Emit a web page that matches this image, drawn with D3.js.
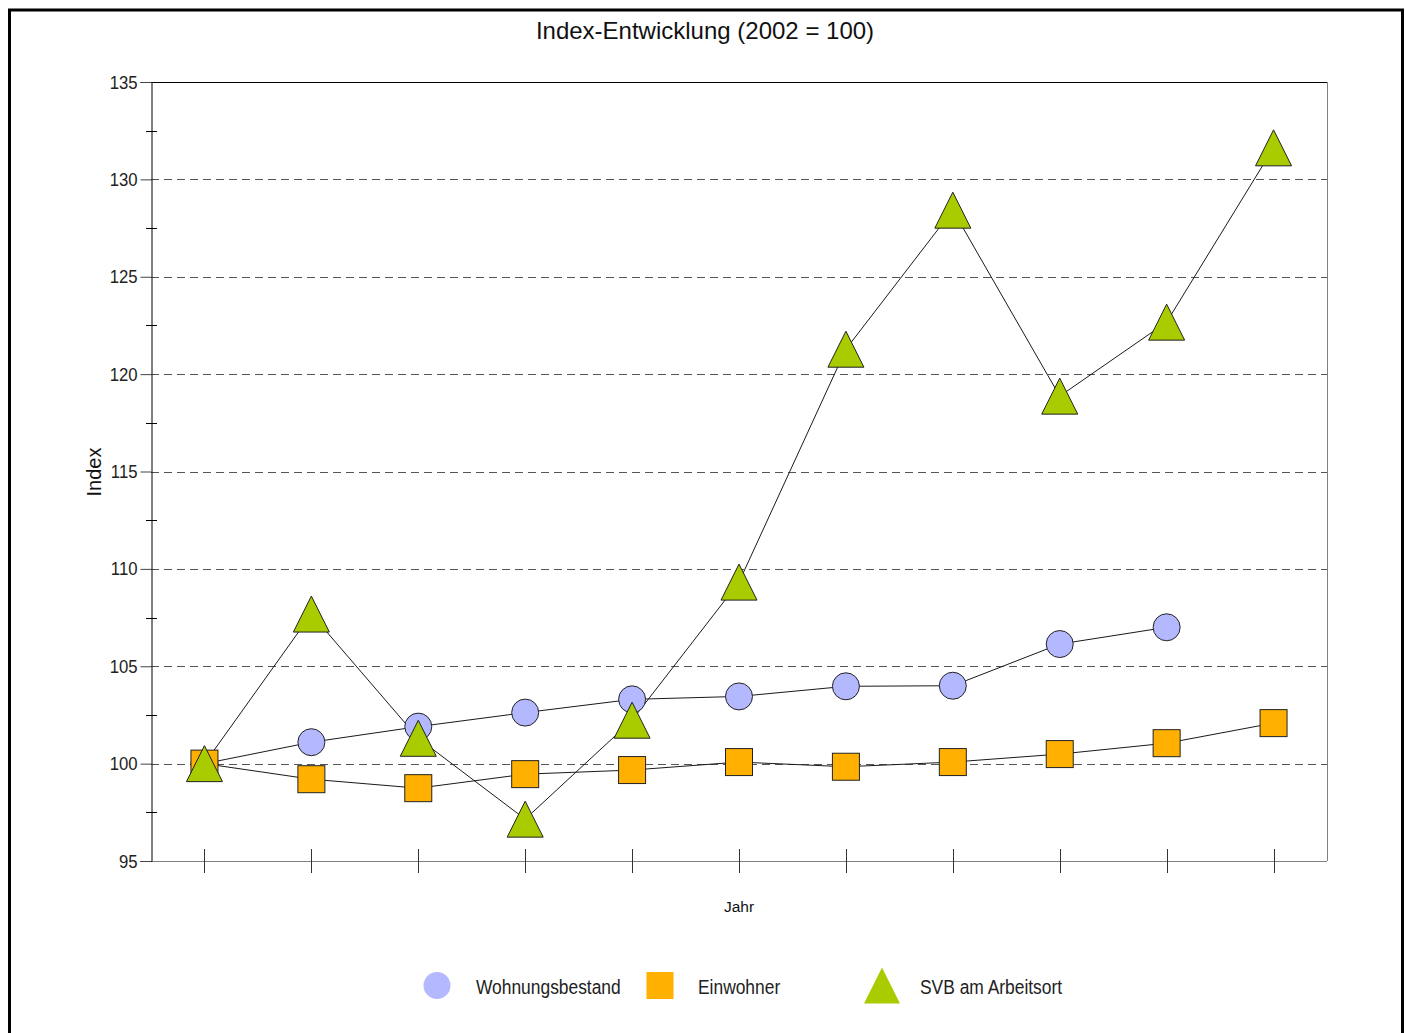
<!DOCTYPE html>
<html><head><meta charset="utf-8">
<script src="https://cdn.jsdelivr.net/npm/d3@7"></script>
<style>
html,body{margin:0;padding:0;background:#fff;}
svg{display:block;}
</style></head>
<body>
<script>
const years = ["2002","2003","2004","2005","2006","2007","2008","2009","2010","2011","2012"];
const wohnungsbestand = [100, 101.1, 101.9, 102.62, 103.3, 103.45, 103.97, 104.0, 106.14, 107.0, null];
const einwohner = [100, 99.2, 98.74, 99.46, 99.67, 100.08, 99.84, 100.08, 100.49, 101.05, 102.08];
const svb = [100, 107.68, 101.3, 97.15, 102.23, 109.32, 121.28, 128.42, 118.87, 122.67, 131.62];
const yTicks = [95, 100, 105, 110, 115, 120, 125, 130, 135];
const yMinorTicks = [97.5, 102.5, 107.5, 112.5, 117.5, 122.5, 127.5, 132.5];
const gridValues = [100, 105, 110, 115, 120, 125, 130];
const seriesNames = ["Wohnungsbestand", "Einwohner", "SVB am Arbeitsort"];
const seriesColors = ["#b4b9ff", "#ffb000", "#a8cc00"];
const seriesShapes = ["circle", "square", "triangle"];

const W = 1406, H = 1033;
const regular = "'Liberation Sans',Arial,Helvetica,sans-serif";
const squeeze = 0.87;

const svg = d3.select("body").append("svg").attr("width", W).attr("height", H);
svg.append("rect").attr("width", W).attr("height", H).attr("fill", "#fff");
svg.append("rect").attr("x", 9.5).attr("y", 10).attr("width", 1393).attr("height", 1040)
  .attr("fill", "none").attr("stroke", "#000").attr("stroke-width", 3);

const pLeft = 151, pRight = 1327, pTop = 82, pBottom = 861;
const x = d3.scaleBand().domain(years).range([pLeft, pRight]);
const xc = d => x(d) + x.bandwidth() / 2;
const y = d3.scaleLinear().domain([95, 135]).range([pBottom, pTop]);

// title
svg.append("text").attr("x", 705).attr("y", 39).attr("text-anchor", "middle")
  .attr("font-family", regular).attr("font-size", 24).attr("fill", "#111").text("Index-Entwicklung (2002 = 100)");

// gridlines
svg.append("g").selectAll("line").data(gridValues).join("line")
  .attr("x1", pLeft).attr("x2", pRight).attr("y1", d => Math.round(y(d)) + 0.5).attr("y2", d => Math.round(y(d)) + 0.5)
  .attr("stroke", "#555").attr("stroke-dasharray", "8,5").attr("stroke-width", 1);

// frame: top black, right & bottom gray
svg.append("line").attr("x1", pLeft).attr("x2", pRight).attr("y1", pTop + 0.5).attr("y2", pTop + 0.5).attr("stroke", "#000");
svg.append("line").attr("x1", pRight + 0.5).attr("x2", pRight + 0.5).attr("y1", pTop).attr("y2", pBottom).attr("stroke", "#808080");
svg.append("line").attr("x1", pLeft).attr("x2", pRight).attr("y1", pBottom + 0.5).attr("y2", pBottom + 0.5).attr("stroke", "#808080");

// y axis
const yAxis = d3.axisLeft(y).tickValues(yTicks).tickSize(11).tickPadding(3).tickFormat(d3.format("d"));
const gy = svg.append("g").attr("transform", `translate(${pLeft + 0.5},0)`).call(yAxis);
gy.select(".domain").attr("stroke", "#000");
gy.selectAll(".tick line").attr("stroke", "#444");
gy.selectAll(".tick text").attr("font-family", regular).attr("font-size", 19).attr("fill", "#222")
  .attr("x", -14 / 0.88).attr("transform", "scale(0.88,1)");
// minor ticks crossing the axis
svg.append("g").selectAll("line").data(yMinorTicks).join("line")
  .attr("x1", pLeft - 5).attr("x2", pLeft + 6).attr("y1", d => Math.round(y(d)) + 0.5).attr("y2", d => Math.round(y(d)) + 0.5)
  .attr("stroke", "#000");

// x ticks crossing the axis
svg.append("g").selectAll("line").data(years).join("line")
  .attr("x1", d => Math.round(xc(d)) + 0.5).attr("x2", d => Math.round(xc(d)) + 0.5)
  .attr("y1", pBottom - 12).attr("y2", pBottom + 12).attr("stroke", "#333");

// axis titles
svg.append("text").attr("transform", "translate(100.5,472) rotate(-90)").attr("text-anchor", "middle")
  .attr("font-family", regular).attr("font-size", 20).attr("fill", "#111").text("Index");
svg.append("text").attr("x", 739).attr("y", 912).attr("text-anchor", "middle")
  .attr("font-family", regular).attr("font-size", 15.5).attr("fill", "#111").text("Jahr");

// lines
const allSeries = [wohnungsbestand, einwohner, svb];
const line = d3.line().defined(d => d[1] != null).x(d => xc(d[0])).y(d => y(d[1]));
allSeries.forEach(vals => {
  svg.append("path").datum(years.map((yr, i) => [yr, vals[i]]))
    .attr("d", line).attr("fill", "none").attr("stroke", "#1a1a1a").attr("stroke-width", 1);
});

function drawShape(g, shape, cx, cy, fill, stroke, s) {
  if (shape === "circle") {
    g.append("circle").attr("cx", cx).attr("cy", cy).attr("r", s / 2).attr("fill", fill).attr("stroke", stroke);
  } else if (shape === "square") {
    g.append("rect").attr("x", cx - s / 2).attr("y", cy - s / 2).attr("width", s).attr("height", s).attr("fill", fill).attr("stroke", stroke);
  } else {
    const h = s / 2;
    g.append("path").attr("d", `M${cx},${cy - h}L${cx + h},${cy + h}L${cx - h},${cy + h}Z`).attr("fill", fill).attr("stroke", stroke);
  }
}

// markers
const mg = svg.append("g");
allSeries.forEach((vals, si) => {
  const size = seriesShapes[si] === "triangle" ? 36 : 27;
  years.forEach((yr, i) => {
    if (vals[i] == null) return;
    drawShape(mg, seriesShapes[si], xc(yr), y(vals[i]), seriesColors[si], "#222", size);
  });
});

// legend
const legendMarkerX = [437, 660, 882];
const legendTextX = [476, 698, 920];
const lg = svg.append("g");
seriesNames.forEach((name, i) => {
  const size = seriesShapes[i] === "triangle" ? 36 : 27;
  drawShape(lg, seriesShapes[i], legendMarkerX[i], 985.5, seriesColors[i], "none", size);
  lg.append("text").attr("transform", `translate(${legendTextX[i]},994) scale(${squeeze},1)`)
    .attr("font-family", regular).attr("font-size", 20).attr("fill", "#222").text(name);
});
</script>
</body></html>
